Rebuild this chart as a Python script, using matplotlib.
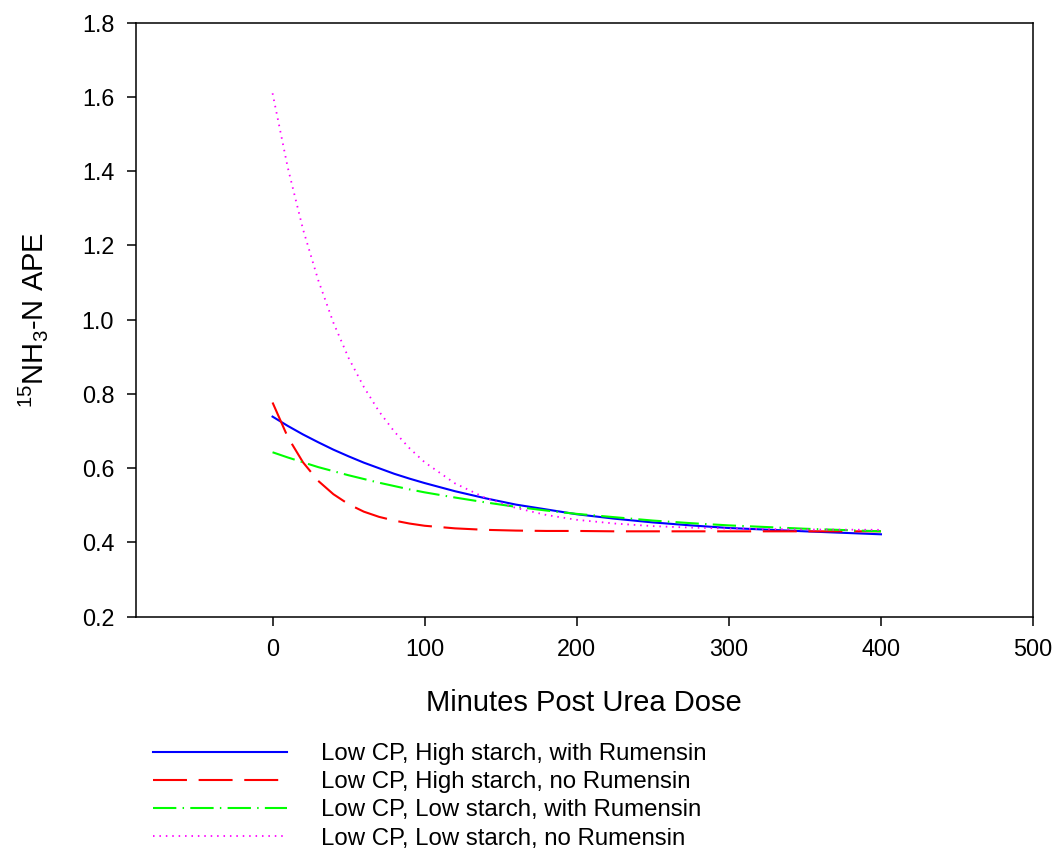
import numpy as np
import matplotlib
matplotlib.use('Agg')
import matplotlib.pyplot as plt

plt.rcParams['font.family'] = ['Liberation Sans', 'DejaVu Sans']
plt.rcParams['mathtext.fontset'] = 'custom'
plt.rcParams['mathtext.rm'] = 'Liberation Sans'
plt.rcParams['mathtext.default'] = 'regular'

# values
minutes = [0, 10, 20, 30, 40, 50, 60, 70, 80, 90, 100, 120, 140, 160, 180,
           200, 225, 250, 275, 300, 350, 400]
high_starch_rum = [0.739, 0.714, 0.691, 0.670, 0.650, 0.632, 0.615, 0.600, 0.585,
                   0.572, 0.560, 0.538, 0.519, 0.502, 0.489, 0.476, 0.464, 0.454,
                   0.446, 0.439, 0.430, 0.422]
high_starch_norum = [0.777, 0.684, 0.616, 0.566, 0.530, 0.503, 0.483, 0.469, 0.459,
                     0.451, 0.445, 0.438, 0.434, 0.432, 0.431, 0.431, 0.430, 0.430,
                     0.430, 0.430, 0.430, 0.430]
low_starch_rum = [0.643, 0.629, 0.616, 0.603, 0.592, 0.581, 0.571, 0.561, 0.552,
                  0.543, 0.535, 0.521, 0.508, 0.496, 0.486, 0.477, 0.468, 0.459,
                  0.452, 0.446, 0.437, 0.430]
low_starch_norum = [1.610, 1.410, 1.244, 1.107, 0.992, 0.897, 0.819, 0.753, 0.699,
                    0.654, 0.616, 0.559, 0.520, 0.493, 0.474, 0.461, 0.451, 0.444,
                    0.440, 0.4375, 0.435, 0.434]
labels = ['Low CP, High starch, with Rumensin',
          'Low CP, High starch, no Rumensin',
          'Low CP, Low starch, with Rumensin',
          'Low CP, Low starch, no Rumensin']

fig = plt.figure(figsize=(10.59, 8.55), dpi=100)
ax = fig.add_axes([0.1281, 0.2787, 0.8474, 0.6947])

lw = 1.5
ax.plot(minutes, high_starch_rum, color='#0000ff', lw=lw, label=labels[0])
ax.plot(minutes, high_starch_norum, color='#ff0000', lw=lw,
        dashes=(16.3, 5.6), label=labels[1])
ax.plot(minutes, low_starch_rum, color='#00ff00', lw=lw,
        dashes=(11.2, 3.0, 0.7, 3.0), label=labels[2])
ax.plot(minutes, low_starch_norum, color='#ff00ff', lw=1.3,
        dashes=(0.85, 2.7), label=labels[3])

ax.set_xlim(-90, 500)
ax.set_ylim(0.2, 1.8)
ax.set_xticks(np.arange(0, 501, 100))
ax.set_yticks(np.arange(0.2, 1.81, 0.2))
ax.set_yticklabels([f'{v:.1f}' for v in np.arange(0.2, 1.81, 0.2)])
ax.tick_params(labelsize=16.8, length=6.5, width=1.1, direction='out')
ax.tick_params(axis='y', pad=9)
ax.tick_params(axis='x', pad=9)
for s in ax.spines.values():
    s.set_linewidth(1.1)

ax.set_xlabel('Minutes Post Urea Dose', fontsize=21, labelpad=20)
ax.set_ylabel('$^{15}$NH$_3$-N APE', fontsize=21)
ax.yaxis.set_label_coords(-0.095, 0.5)

leg = ax.legend(loc='upper left', bbox_to_anchor=(0.1442, 0.131),
                bbox_transform=fig.transFigure, frameon=False,
                fontsize=17.3, handlelength=5.6, handletextpad=1.42,
                labelspacing=0.26, borderpad=0, borderaxespad=0)

fig.savefig('out.png', dpi=100)
